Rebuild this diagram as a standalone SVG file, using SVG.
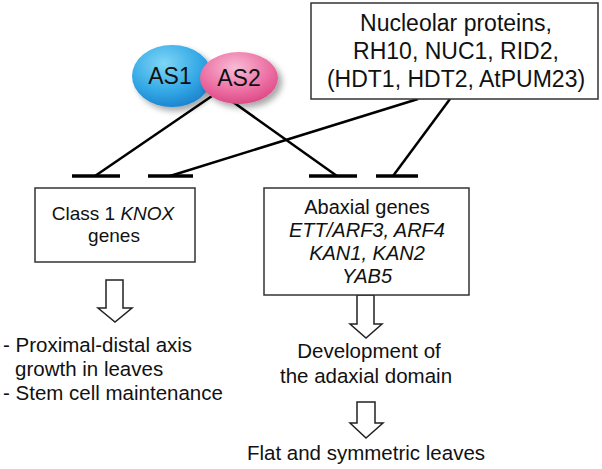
<svg xmlns="http://www.w3.org/2000/svg" width="602" height="469" viewBox="0 0 602 469">
<defs>
<style>
text{font-family:"Liberation Sans",Arial,sans-serif;fill:#111;}
.box{fill:#fff;stroke:#333;stroke-width:1.5;}
.ln{stroke:#000;stroke-width:2.5;fill:none;stroke-linecap:butt;}
.bar{stroke:#000;stroke-width:3.5;}
.arr{fill:#fff;stroke:#222;stroke-width:1.5;stroke-linejoin:miter;}
.it{font-style:italic;}
</style>
<radialGradient id="gBlue" cx="0.4" cy="0.3" r="0.75">
<stop offset="0" stop-color="#7fd6f6"/>
<stop offset="0.6" stop-color="#34a9e6"/>
<stop offset="1" stop-color="#1a7fcc"/>
</radialGradient>
<radialGradient id="gPink" cx="0.45" cy="0.3" r="0.75">
<stop offset="0" stop-color="#f8bcd6"/>
<stop offset="0.6" stop-color="#ec6fa3"/>
<stop offset="1" stop-color="#d8447f"/>
</radialGradient>
<filter id="sh" x="-30%" y="-30%" width="170%" height="170%">
<feGaussianBlur in="SourceAlpha" stdDeviation="3"/>
<feOffset dx="4" dy="4" result="b"/>
<feComponentTransfer><feFuncA type="linear" slope="0.35"/></feComponentTransfer>
<feMerge><feMergeNode/><feMergeNode in="SourceGraphic"/></feMerge>
</filter>
</defs>
<rect width="602" height="469" fill="#fff"/>

<g id="connectors">
<line class="ln" x1="212" y1="96" x2="95" y2="176"/>
<line class="ln" x1="226" y1="97" x2="337" y2="176"/>
<line class="ln" x1="418" y1="99" x2="170" y2="176"/>
<line class="ln" x1="450" y1="99" x2="393" y2="176"/>
<line class="bar" x1="72" y1="176" x2="120" y2="176"/>
<line class="bar" x1="148" y1="176" x2="193" y2="176"/>
<line class="bar" x1="309" y1="176" x2="357" y2="176"/>
<line class="bar" x1="376" y1="176" x2="418" y2="176"/>
<polygon class="arr" points="106,280 123,280 123,308 132,308 115,322 98,308 106,308"/>
<polygon class="arr" points="357,295 374,295 374,324 382,324 366,338 350,324 357,324"/>
<polygon class="arr" points="357,402 375,402 375,423 383,423 366,438 350,423 357,423"/>
</g>

<g id="as1">
<ellipse cx="172" cy="76" rx="40" ry="31" fill="url(#gBlue)" filter="url(#sh)"/>
<text x="170" y="84" font-size="23" text-anchor="middle">AS1</text>
</g>
<g id="as2">
<ellipse cx="239" cy="78" rx="39" ry="26" fill="url(#gPink)" filter="url(#sh)"/>
<text x="239" y="86" font-size="23" text-anchor="middle">AS2</text>
</g>

<g id="nucleolar">
<rect class="box" x="311" y="3" width="287" height="96"/>
<text x="456" y="31" font-size="23" text-anchor="middle">Nucleolar proteins,</text>
<text x="456" y="59" font-size="23" text-anchor="middle">RH10, NUC1, RID2,</text>
<text x="456" y="87" font-size="23" text-anchor="middle">(HDT1, HDT2, AtPUM23)</text>
</g>

<g id="knox">
<rect class="box" x="35" y="188" width="160" height="74"/>
<text x="113" y="220" font-size="19" text-anchor="middle">Class 1 <tspan class="it">KNOX</tspan></text>
<text x="114" y="242" font-size="19" text-anchor="middle">genes</text>
</g>

<g id="abaxial">
<rect class="box" x="264" y="188" width="205" height="107"/>
<text x="367" y="214" font-size="20" text-anchor="middle">Abaxial genes</text>
<text x="367" y="237" font-size="20" text-anchor="middle" class="it">ETT/ARF3, ARF4</text>
<text x="367" y="260" font-size="20" text-anchor="middle" class="it">KAN1, KAN2</text>
<text x="367" y="283" font-size="20" text-anchor="middle" class="it">YAB5</text>
</g>

<g id="knox-outcome">
<text x="3" y="352" font-size="20.5">- Proximal-distal axis</text>
<text x="15" y="376" font-size="20.5">growth in leaves</text>
<text x="3" y="400" font-size="20.5">- Stem cell maintenance</text>
</g>

<g id="adaxial">
<text x="369" y="358" font-size="20.5" text-anchor="middle">Development of</text>
<text x="366" y="383" font-size="20.5" text-anchor="middle">the adaxial domain</text>
</g>

<g id="flat">
<text x="366" y="460" font-size="20.5" text-anchor="middle">Flat and symmetric leaves</text>
</g>
</svg>
